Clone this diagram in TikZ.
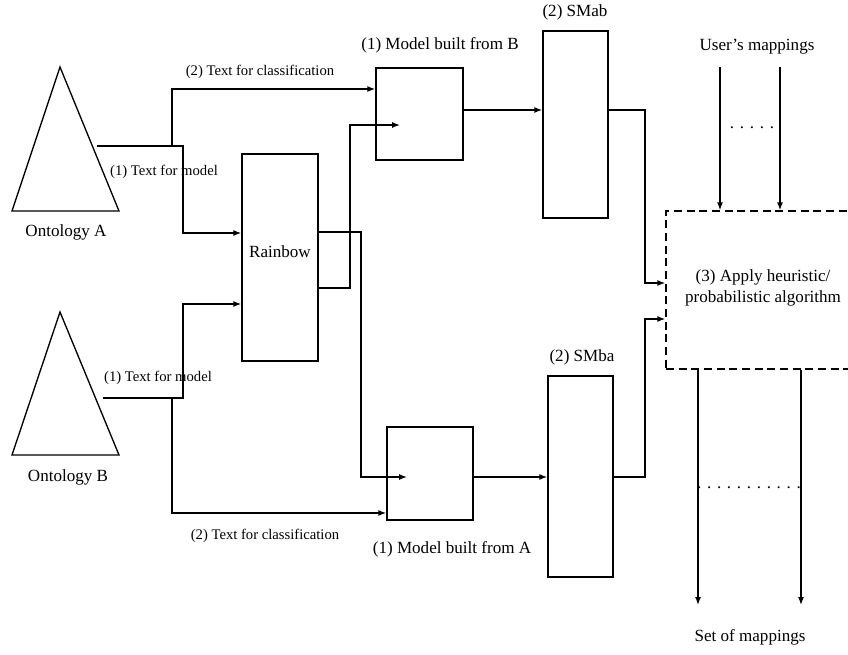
\documentclass[tikz,border=0pt]{standalone}
\usepackage{fontspec}
\setmainfont{Liberation Serif}
\usetikzlibrary{positioning,arrows.meta,fit,calc}

\begin{document}
\begin{tikzpicture}[x=0.75pt,y=-0.75pt,
  box/.style={draw,line width=1pt,inner sep=0pt},
  lbl/.style={font=\fontsize{12.8}{16}\selectfont},
  elbl/.style={font=\fontsize{11}{13}\selectfont},
  wire/.style={line width=1pt},
  flow/.style={line width=1pt,-{Latex[length=6pt,width=4.5pt]}}]
  \useasboundingbox (0,0) rectangle (848,655);
  \clip (0,0) rectangle (848,655);
  % ontologies
  \draw[wire] (60,67) -- (119,211) -- (12,211) -- cycle;
  \node[lbl] (ontA) at (66,232) {Ontology A};
  \draw[wire] (60,312) -- (119,455) -- (12,455) -- cycle;
  \node[lbl] (ontB) at (68,477) {Ontology B};
  \coordinate (aOut) at (97,146);
  \coordinate (bOut) at (103,398);
  % boxes
  \node[box,lbl,fit={(242,154) (318,361)}] (rainbow) {Rainbow};
  \node[box,fit={(376,68) (463,160)}] (modelB) {};
  \node[lbl] (modelBlbl) at (440,45) {(1) Model built from B};
  \node[box,fit={(387,427) (473,520)}] (modelA) {};
  \node[lbl] (modelAlbl) at (452,549) {(1) Model built from A};
  \node[box,fit={(543,31) (608,218)}] (smab) {};
  \node[lbl] (smablbl) at (575,12) {(2) SMab};
  \node[box,fit={(548,376) (613,577)}] (smba) {};
  \node[lbl] (smbalbl) at (582,357) {(2) SMba};
  \node[box,dash pattern=on 6pt off 3.5pt,fit={(666,211) (880,369)}] (apply) {};
  \node[lbl,align=center] (applylbl) at (763,288) {(3) Apply heuristic/\\probabilistic algorithm};
  % from ontology A
  \draw[flow] (aOut) -- (183,146) |- (rainbow.west |- 0,233);
  \draw[flow] (172,146) |- (modelB.west |- 0,89);
  \node[elbl] (clsA) at (260,72) {(2) Text for classification};
  \node[elbl] (mdlA) at (164,172) {(1) Text for model};
  % from ontology B
  \draw[flow] (bOut) -- (183,398) |- (rainbow.west |- 0,304);
  \draw[flow] (172,398) |- (modelA.west |- 0,513);
  \node[elbl] (mdlB) at (158,378) {(1) Text for model};
  \node[elbl] (clsB) at (265,536) {(2) Text for classification};
  % rainbow builds the models
  \coordinate (inB) at (400,125);
  \coordinate (inA) at (407,477);
  \draw[flow] (rainbow.east |- 0,232) -| (361,477) -- (inA);
  \draw[flow] (rainbow.east |- 0,288) -| (350,125) -- (inB);
  % similarity matrices
  \draw[flow] (modelB.east |- 0,110) -- (smab.west |- 0,110);
  \draw[flow] (modelA.east |- 0,477) -- (smba.west |- 0,477);
  \draw[flow] (smab.east |- 0,110) -| (645,283) -- (apply.west |- 0,283);
  \draw[flow] (smba.east |- 0,477) -| (645,319) -- (apply.west |- 0,319);
  % user's mappings
  \node[lbl] (user) at (757,47) {User's mappings};
  \coordinate (u1) at (720,67);
  \coordinate (u2) at (780,67);
  \draw[flow] (u1) -- (u1 |- apply.north);
  \draw[flow] (u2) -- (u2 |- apply.north);
  \node[lbl] (udots) at (752,128) {. . . . .};
  % result
  \node[lbl] (result) at (750,637) {Set of mappings};
  \coordinate (r1) at (698,605);
  \coordinate (r2) at (801,605);
  \draw[flow] (apply.south -| r1) -- (r1);
  \draw[flow] (apply.south -| r2) -- (r2);
  \node[lbl] (rdots) at (749,488) {. . . . . . . . . . .};
\end{tikzpicture}
\end{document}
